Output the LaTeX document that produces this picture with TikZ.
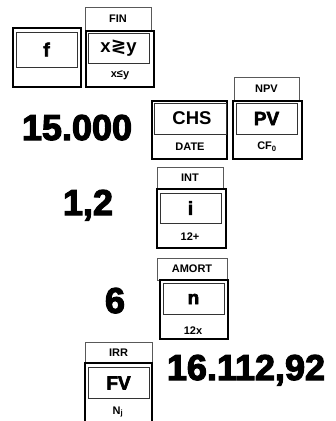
\documentclass[tikz,border=0pt]{standalone}
\usepackage{fontspec}
\setmainfont{Liberation Sans}
\newfontfamily\heavyfont{Liberation Sans}[BoldFeatures={FakeBold=3.2}]
\newfontfamily\symfont{DejaVu Sans}
\begin{document}
\begin{tikzpicture}[x=1pt,y=-1pt,
  keyrim/.style={line width=1.7pt},
  keyface/.style={line width=0.9pt,draw=black!80},
  shiftbox/.style={line width=0.8pt,draw=black!65},
  keytext/.style={font=\fontsize{18.5}{18.5}\selectfont\bfseries},
  heavytext/.style={font=\fontsize{19}{19}\selectfont\heavyfont\bfseries},
  tagtext/.style={font=\fontsize{11}{11}\selectfont\bfseries},
  bignum/.style={font=\fontsize{36}{36}\selectfont\heavyfont\bfseries,anchor=base}]
\useasboundingbox (0,0) rectangle (336,421);
\clip (0,0) rectangle (336,421);
% f and x<>y keys
\draw[keyrim] (13,28) rectangle (81,87);
\draw[keyface] (16,32) rectangle (77,67);
\node[heavytext] (fkey) at (46.5,49.5) {f};
\draw[shiftbox] (85,7) rectangle (151,30);
\node[tagtext] (fin) at (118,18.5) {FIN};
\draw[keyrim] (86,31) rectangle (154,87);
\draw[keyface] (88,33) rectangle (149,63);
\node[keytext] (swap) at (118.5,48) {x{\symfont\bfseries ≷}y};
\node[tagtext] (xley) at (120,75.5) {x≤y};
% present value row
\node[bignum] (pvval) at (77,140) {15.000};
\draw[keyrim] (152,101) rectangle (227,159);
\draw[keyface] (154,103) rectangle (226,134);
\node[keytext] (chs) at (192,118.5) {CHS};
\node[tagtext] (date) at (190,147) {DATE};
\draw[shiftbox] (234,77) rectangle (299,101);
\node[tagtext] (npv) at (266.5,89) {NPV};
\draw[keyrim] (233,101) rectangle (302,159);
\draw[keyface] (236,103) rectangle (297,134);
\node[heavytext] (pv) at (266.5,118.5) {PV};
\node[tagtext] (cfzero) at (267,147) {CF\textsubscript{0}};
% rate row
\node[bignum] (ival) at (88,215) {1,2};
\draw[shiftbox] (157,167) rectangle (223,189);
\node[tagtext] (int) at (190,178) {INT};
\draw[keyrim] (157,189) rectangle (226,248);
\draw[keyface] (160,193) rectangle (221,223);
\node[heavytext] (ikey) at (190.5,208) {i};
\node[tagtext] (twelveplus) at (190,237) {12+};
% periods row
\node[bignum] (nval) at (115,313) {6};
\draw[shiftbox] (157,258) rectangle (227,280);
\node[tagtext] (amort) at (192,269) {AMORT};
\draw[keyrim] (160,280) rectangle (228,339);
\draw[keyface] (163,283) rectangle (224,314);
\node[heavytext] (nkey) at (193.5,299) {n};
\node[tagtext] (twelvex) at (193,331) {12x};
% future value row
\draw[shiftbox] (85,342) rectangle (152,363);
\node[tagtext] (irr) at (118.5,352.5) {IRR};
\draw[keyrim] (85,363) rectangle (152,440);
\draw[keyface] (88,367) rectangle (149,398);
\node[heavytext] (fv) at (118.5,383) {FV};
\node[tagtext] (nj) at (118,412) {N\textsubscript{j}};
\node[bignum] (fvval) at (246,380) {16.112,92};
\end{tikzpicture}
\end{document}
